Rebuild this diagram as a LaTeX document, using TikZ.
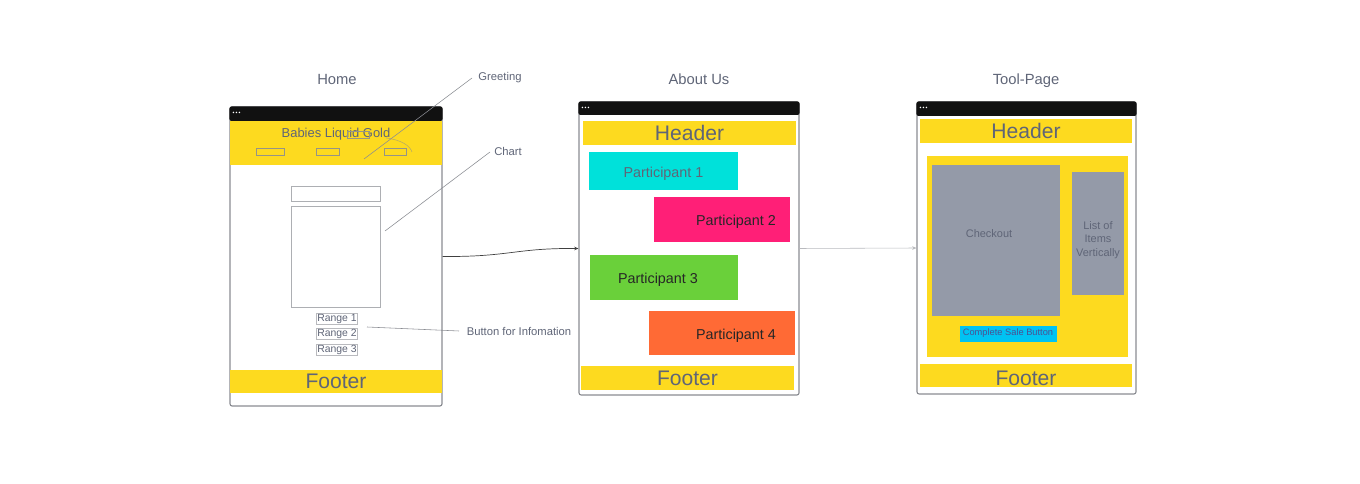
\documentclass[tikz,border=0pt]{standalone}
\usepackage{fontspec}
\setmainfont{Liberation Sans}
\usetikzlibrary{positioning,fit,calc,arrows.meta}
\definecolor{gold}{HTML}{FDDA1F}
\definecolor{barblack}{HTML}{111111}
\definecolor{ink}{HTML}{5F6577}
\definecolor{framegray}{HTML}{8A8C92}
\definecolor{slate}{HTML}{949AA8}
\definecolor{pone}{HTML}{00E1DA}
\definecolor{ptwo}{HTML}{FF1F77}
\definecolor{pthree}{HTML}{6AD03A}
\definecolor{pfour}{HTML}{FF6A35}
\definecolor{salecyan}{HTML}{00C3F3}

\begin{document}
\begin{tikzpicture}[x=0.025cm,y=-0.025cm,>={Stealth[length=3pt,width=2.5pt]},
    every node/.style={text=ink},
    frame/.style={draw=framegray,line width=0.8pt,rounded corners=1.5pt,inner sep=0pt},
    band/.style={fill=gold,inner sep=0pt},
    bandtext/.style={font=\fontsize{15}{16}\selectfont},
    card/.style={inner sep=0pt},
    cardtext/.style={font=\fontsize{10.2}{12}\selectfont,yshift=-0.06cm},
    wire/.style={draw=framegray!70,line width=0.6pt,inner sep=0pt},
    rangebtn/.style={draw=framegray!60,line width=0.5pt,inner sep=0.4pt,font=\fontsize{7.4}{8}\selectfont},
    leader/.style={draw=framegray,line width=0.4pt},
    note/.style={font=\fontsize{8}{9}\selectfont,anchor=base},
    title/.style={font=\fontsize{10.5}{12}\selectfont,anchor=base}]
    \useasboundingbox (0,0) rectangle (1360,484);

    % the three pages
    \node[frame,fit={(230,107) (442,406)}] (home) {};
    \node[frame,fit={(579,102) (799,395)}] (about) {};
    \node[frame,fit={(917,102) (1136,394)}] (tool) {};
    \foreach \fr/\bot in {home/121,about/115,tool/116} {
        \fill[barblack,rounded corners=1.5pt] (\fr.north west) rectangle (\fr.east |- 0,\bot);
        \foreach \i in {0,1,2}
            \fill[white] ($(\fr.north west)+(4+3*\i,6)$) circle (0.6pt);
    }
    \node[title] (hometitle) at (337,85) {Home};
    \node[title] (abouttitle) at (699,85) {About Us};
    \node[title] (tooltitle) at (1026,85) {Tool-Page};

    % home
    \node[band,fit={(230,121) (442,165)}] (homehead) {};
    \node[font=\fontsize{9.2}{10}\selectfont] (brand) at (336,134) {Babies Liquid Gold};
    \foreach \a/\b in {256/284,316/339,384/406}
        \draw[draw=framegray!90!gold,line width=0.5pt] (\a,148) rectangle (\b,155);
    \draw[draw=framegray!90!gold,line width=0.5pt] (347,131) rectangle (369,138);
    \draw[draw=framegray!60!gold,line width=0.4pt] (386,138) .. controls (402,140) and (410,146) .. (412,152);
    \node[wire,fit={(291,186) (380,201)}] (inputbox) {};
    \node[wire,fit={(291,206) (380,307)}] (chartbox) {};
    \node[rangebtn] (range1) at (337,319) {Range 1};
    \node[rangebtn] (range2) at (337,334) {Range 2};
    \node[rangebtn] (range3) at (337,350) {Range 3};
    \node[band,fit={(230,370) (442,393)},label={[bandtext]center:Footer}] (homefoot) {};

    % notes
    \node[note] (greeting) at (500,81) {Greeting};
    \node[note] (chart) at (508,156) {Chart};
    \node[note] (info) at (519,336) {Button for Infomation};
    \coordinate (greetend) at (364,159);
    \coordinate (chartend) at (385,231);
    \coordinate (infoend) at (367,327);
    \draw[leader] (472,78) -- (greetend);
    \draw[leader] (490,152) -- (chartend);
    \draw[leader] (459,331) -- (infoend);

    % about us
    \node[band,fit={(583,121) (796,145)},label={[bandtext]center:Header}] (abouthead) {};
    \node[card,fill=pone,fit={(589,152) (738,190)},label={[cardtext]center:Participant 1}] (part1) {};
    \node[card,fill=ptwo,fit={(654,197) (790,242)},label={[cardtext,text=black!85,xshift=0.35cm]center:Participant 2}] (part2) {};
    \node[card,fill=pthree,fit={(590,255) (738,300)},label={[cardtext,text=black!85,xshift=-0.15cm]center:Participant 3}] (part3) {};
    \node[card,fill=pfour,fit={(649,311) (795,355)},label={[cardtext,text=black!85,xshift=0.35cm]center:Participant 4}] (part4) {};
    \node[band,fit={(581,366) (794,390)},label={[bandtext]center:Footer}] (aboutfoot) {};

    % tool page
    \node[band,fit={(920,119) (1132,143)},label={[bandtext]center:Header}] (toolhead) {};
    \node[fill=gold,inner sep=0pt,fit={(927,156) (1128,357)}] (panel) {};
    \node[fill=slate,inner sep=0pt,fit={(932,165) (1060,316)}] (checkout) {};
    \node[font=\fontsize{7.8}{9}\selectfont] (checkouttext) at (989,234) {Checkout};
    \node[fill=slate,inner sep=0pt,fit={(1072,172) (1124,295)}] (itemlist) {};
    \node[font=\fontsize{7.8}{9.6}\selectfont,align=center] (itemtext) at (1098,240) {List of\\Items\\Vertically};
    \node[fill=salecyan,inner sep=0pt,fit={(960,326) (1057,342)}] (salebtn) {};
    \node[font=\fontsize{6.6}{7}\selectfont,text=ink!80!blue] (saletext) at (1008,333) {Complete Sale Button};
    \node[band,fit={(920,364) (1132,387)},label={[bandtext,yshift=-0.07cm]center:Footer}] (toolfoot) {};

    % flow between pages
    \draw[->,line width=0.5pt,black!75] (home.east) .. controls (510,257) and (515,248) .. (about.west);
    \draw[->,line width=0.4pt,framegray!60] (about.east) -- (tool.west);
\end{tikzpicture}
\end{document}
